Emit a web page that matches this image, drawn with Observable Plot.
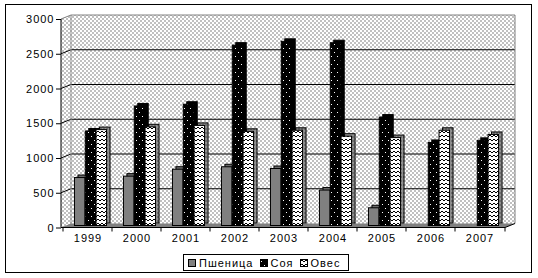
<!DOCTYPE html>
<html><head><meta charset="utf-8">
<script src="https://cdn.jsdelivr.net/npm/d3@7"></script>
<script src="https://cdn.jsdelivr.net/npm/@observablehq/plot@0.6"></script>
<style>
body{margin:0;background:#fff;font-family:"Liberation Sans",Arial,sans-serif;}
#wrap{position:relative;width:538px;height:278px;overflow:hidden;}
#border{position:absolute;left:5px;top:4px;width:527px;height:269px;border:1px solid #000;box-sizing:border-box;pointer-events:none;}
#legend{margin-left:183px;margin-top:9px;width:166px;height:17px;border:1px solid #000;box-sizing:border-box;display:flex;align-items:center;font-size:11px;letter-spacing:1px;color:#000;padding-left:4px;}
#legend .item{display:flex;align-items:center;margin-right:6px;}
#legend svg{display:block;margin-right:3px;}
</style></head><body>
<svg width="0" height="0" style="position:absolute"><defs>
<pattern id="checker" width="4" height="4" patternUnits="userSpaceOnUse"><rect width="4" height="4" fill="#fff"/><rect width="2" height="2" fill="#c0c0c0"/><rect x="2" y="2" width="2" height="2" fill="#c0c0c0"/></pattern>
<pattern id="dots" width="6" height="8" patternUnits="userSpaceOnUse"><rect width="6" height="8" fill="#000"/><rect x="1" y="2" width="1" height="1" fill="#fff"/><rect x="4" y="6" width="1" height="1" fill="#fff"/></pattern>
<pattern id="waves" width="4" height="4" patternUnits="userSpaceOnUse"><rect width="4" height="4" fill="#fff"/><path d="M0,3 L2,1 L4,3" fill="none" stroke="#000" stroke-width="1"/></pattern>
<pattern id="sidedots" width="3" height="4" patternUnits="userSpaceOnUse"><rect width="3" height="4" fill="#909090"/><rect x="1" y="1" width="1" height="1" fill="#000"/></pattern>
</defs></svg>
<div id="wrap"><div id="chart"></div><div id="legend"></div><div id="border"></div></div>
<script>
const years = ["1999","2000","2001","2002","2003","2004","2005","2006","2007"];
const wheat = [690, 710, 810, 845, 820, 510, 255, 0, 0];
const soy   = [1360, 1720, 1745, 2595, 2650, 2630, 1560, 1195, 1225];
const oats  = [1380, 1420, 1440, 1355, 1370, 1285, 1265, 1370, 1310];
const seriesNames = ["Пшеница", "Соя", "Овес"];
const yTicks = [0, 500, 1000, 1500, 2000, 2500, 3000];

const rows = years.map((year, i) => ({year, wheat: wheat[i], soy: soy[i], oats: oats[i]}));
const keys = ["wheat", "soy", "oats"];
const fronts = ["#808080", "url(#dots)", "url(#waves)"];
const sides = ["#6a6a6a", "#000", "url(#sidedots)"];

const W = 538, H = 245, ML = 61, MR = 33, MT = 19, MB = 17.5;
const bw = (W - ML - MR) / years.length;
const barW = 10.8, shift = 3;
const off0 = (bw - 3 * barW) / 2 + shift;
const DX = 10, DY = -4;       // wall depth
const BDX = 3.5, BDY = -2.5;  // bar depth
const base = -2;              // bars sit mid-depth

function decor(index, scales, values, dim) {
  const y = scales.y, x = scales.x;
  const x0 = dim.marginLeft, x1 = dim.width - dim.marginRight;
  const y0 = y(0), yT = y(yTicks[yTicks.length - 1]);
  const g = d3.create("svg:g");
  g.append("path").attr("d", `M${x0},${yT}L${x0+DX},${yT+DY}L${x1+DX},${yT+DY}L${x1+DX},${y0+DY}L${x1},${y0}L${x0},${y0}Z`).attr("fill", "url(#checker)");
  g.append("path").attr("d", `M${x0},${y0}L${x0+DX},${y0+DY}L${x1+DX},${y0+DY}L${x1},${y0}Z`).attr("fill", "#808080");
  for (const t of yTicks.slice(1, -1)) {
    g.append("path").attr("d", `M${x0},${y(t)}L${x0+DX},${y(t)+DY}L${x1+DX},${y(t)+DY}`).attr("stroke", "#000").attr("fill", "none");
  }
  g.append("path").attr("d", `M${x0},${yT}L${x0+DX},${yT+DY}L${x1+DX},${yT+DY}L${x1+DX},${y0+DY}`).attr("stroke", "#808080").attr("fill", "none");
  g.append("path").attr("d", `M${x0+DX},${yT+DY}L${x0+DX},${y0+DY}`).attr("stroke", "#909090").attr("fill", "none");
  return g.node();
}
function axesLines(index, scales, values, dim) {
  const y = scales.y, x = scales.x;
  const x0 = dim.marginLeft, x1 = dim.width - dim.marginRight;
  const y0 = y(0), yT = y(yTicks[yTicks.length - 1]);
  const g = d3.create("svg:g").attr("stroke", "#000").attr("fill", "none");
  g.append("path").attr("d", `M${x0},${yT}L${x0},${y0}L${x1},${y0}L${x1+DX},${y0+DY}`);
  const xs = years.map(v => x(v)).concat([x1]);
  for (const xx of xs) g.append("path").attr("d", `M${xx},${y0}L${xx},${y0+4}`);
  return g.node();
}

const marks = [decor];
keys.forEach((k, i) => {
  const inL = off0 + i * barW, inR = bw - off0 - (i + 1) * barW;
  marks.push(Plot.barY(rows, {x: "year", y: k, insetLeft: inL, insetRight: inR, dx: BDX, dy: base + BDY, fill: sides[i], stroke: "#000", strokeWidth: 1}));
  marks.push(Plot.barY(rows, {x: "year", y: k, insetLeft: inL, insetRight: inR, dy: base, fill: fronts[i], stroke: "#000", strokeWidth: 1}));
});
marks.push(axesLines);
marks.push(Plot.axisY({ticks: yTicks, tickSize: 5, tickPadding: 2, label: null, tickFormat: d => String(d)}));
marks.push(Plot.axisX({tickSize: 0, tickPadding: 6, label: null}));

const chart = Plot.plot({
  width: W, height: H,
  marginLeft: ML, marginRight: MR, marginTop: MT, marginBottom: MB,
  style: {background: "transparent", fontSize: "11px", letterSpacing: "1px", fontFamily: "'Liberation Sans', Arial, sans-serif", color: "#000"},
  x: {domain: years, padding: 0, label: null},
  y: {domain: [0, 3000], label: null},
  marks
});
document.getElementById("chart").appendChild(chart);

const legend = d3.select("#legend");
seriesNames.forEach((name, i) => {
  const it = legend.append("div").attr("class", "item");
  const s = it.append("svg").attr("width", 8).attr("height", 8);
  s.append("rect").attr("x", 0.5).attr("y", 0.5).attr("width", 7).attr("height", 7).attr("fill", fronts[i]).attr("stroke", "#000");
  it.append("span").text(name);
});
</script>
</body></html>
